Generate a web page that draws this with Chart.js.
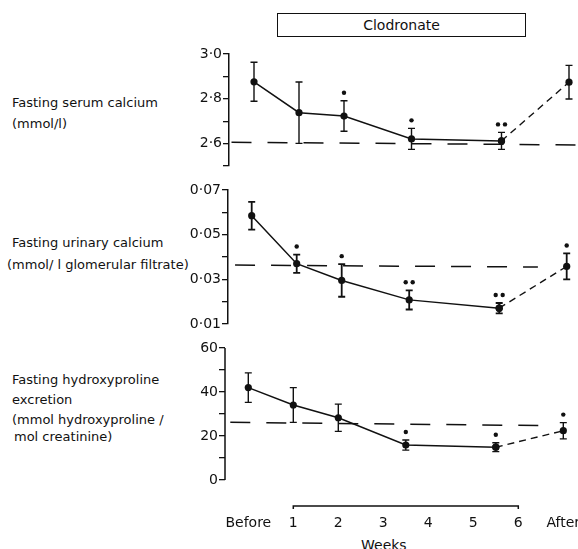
<!DOCTYPE html>
<html><head><meta charset="utf-8">
<script src="https://cdn.jsdelivr.net/npm/chart.js@4.4.0/dist/chart.umd.min.js"></script>
<style>
html,body{margin:0;padding:0;width:578px;height:549px;overflow:hidden;background:#fff;position:relative;}
.lbl{position:absolute;font-family:"DejaVu Sans",sans-serif;font-size:13px;color:#111;white-space:nowrap;line-height:18px;}
canvas{position:absolute;left:0;}
#box{position:absolute;left:277px;top:13px;width:247px;height:22px;border:1.5px solid #111;text-align:center;font-family:"DejaVu Sans",sans-serif;font-size:14px;line-height:22px;color:#111;}
</style></head><body>
<div id="box">Clodronate</div>
<div class="lbl" style="left:12px;top:94px">Fasting serum calcium</div>
<div class="lbl" style="left:12px;top:115px">(mmol/l)</div>
<div class="lbl" style="left:12px;top:234px">Fasting urinary calcium</div>
<div class="lbl" style="left:7px;top:256px">(mmol/ l glomerular filtrate)</div>
<div class="lbl" style="left:12px;top:371px">Fasting hydroxyproline</div>
<div class="lbl" style="left:12px;top:391px">excretion</div>
<div class="lbl" style="left:12px;top:411px">(mmol hydroxyproline /</div>
<div class="lbl" style="left:14px;top:428px">mol creatinine)</div>
<div class="lbl" style="left:361px;top:536px;font-size:14px">Weeks</div>
<canvas id="c1"></canvas>
<canvas id="c2"></canvas>
<canvas id="c3"></canvas>
<script>
// ---- data ----
const timeLabels = ['Before', '1', '2', '3', '4', '5', '6', 'After'];
const timeTickValues = [0, 1, 2, 3, 4, 5, 6, 7];
const sampleWeeks = [0, 1, 2, 3.5, 5.5, 7]; // Before, wk1, wk2, wk3.5, wk5.5, After

const serumCalcium = [2.876, 2.738, 2.723, 2.621, 2.612, 2.874];
const serumCalciumSE = [0.087, 0.137, 0.068, 0.047, 0.038, 0.075];
const serumCalciumSig = ['', '', '*', '*', '**', ''];
const serumCalciumNormal = [2.606, 2.594];
const serumTicks = [2.5, 2.6, 2.7, 2.8, 2.9, 3.0];
const serumTickLabels = ['', '2·6', '', '2·8', '', '3·0'];

const urinaryCalcium = [0.0585, 0.0370, 0.0295, 0.0208, 0.0171, 0.0358];
const urinaryCalciumSE = [0.0062, 0.0041, 0.0073, 0.0043, 0.0023, 0.0058];
const urinaryCalciumSig = ['', '*', '*', '**', '**', '*'];
const urinaryCalciumNormal = [0.0364, 0.0355];
const urinaryTicks = [0.01, 0.02, 0.03, 0.04, 0.05, 0.06, 0.07];
const urinaryTickLabels = ['0·01', '', '0·03', '', '0·05', '', '0·07'];

const hydroxyproline = [42.0, 34.1, 28.3, 15.9, 14.9, 22.4];
const hydroxyprolineSE = [6.7, 7.9, 6.2, 2.3, 2.0, 3.7];
const hydroxyprolineSig = ['', '', '', '*', '*', '*'];
const hydroxyprolineNormal = [26.2, 24.7];
const hypTicks = [0, 10, 20, 30, 40, 50, 60];
const hypTickLabels = ['0', '', '20', '', '40', '', '60'];

// ---- layout ----
const INK = '#111';
const PX_PER_WEEK = 45;
const panels = [
  {id: 'c1', top: 40, areaTop: 54, areaBottom: 166, axisX: 229, beforeX: 254,
   yMin: 2.5, yMax: 3.0, mean: serumCalcium, se: serumCalciumSE, sig: serumCalciumSig,
   normal: serumCalciumNormal, normalFrom: -0.5, normalTo: 7.2,
   ticks: serumTicks, tickLabels: serumTickLabels, showX: false, ownAxis: false, barW: 1.4},
  {id: 'c2', top: 178, areaTop: 190, areaBottom: 324, axisX: 228, beforeX: 251.7,
   yMin: 0.01, yMax: 0.07, mean: urinaryCalcium, se: urinaryCalciumSE, sig: urinaryCalciumSig,
   normal: urinaryCalciumNormal, normalFrom: -0.37, normalTo: 6.36,
   ticks: urinaryTicks, tickLabels: urinaryTickLabels, showX: false, ownAxis: false, barW: 1.8},
  {id: 'c3', top: 336, areaTop: 348, areaBottom: 506, axisX: 225, beforeX: 248.3,
   zeroPx: 480, yMax: 60, mean: hydroxyproline, se: hydroxyprolineSE, sig: hydroxyprolineSig,
   normal: hydroxyprolineNormal, normalFrom: -0.4, normalTo: 6.73,
   ticks: hypTicks, tickLabels: hypTickLabels, showX: true, ownAxis: true, barW: 1.4}
];

const errorBarPlugin = {
  id: 'errorBars',
  afterDatasetsDraw(chart, args, opts) {
    const p = opts.panel;
    const xs = chart.scales.x, ys = chart.scales.y;
    const ctx = chart.ctx;
    ctx.save();
    ctx.strokeStyle = INK;
    ctx.fillStyle = INK;
    ctx.lineWidth = p.barW;
    p.mean.forEach((m, i) => {
      const x = xs.getPixelForValue(sampleWeeks[i]);
      const yt = ys.getPixelForValue(m + p.se[i]);
      const yb = ys.getPixelForValue(m - p.se[i]);
      ctx.beginPath();
      ctx.moveTo(x, yt); ctx.lineTo(x, yb);
      ctx.moveTo(x - 3.5, yt); ctx.lineTo(x + 3.5, yt);
      ctx.moveTo(x - 3.5, yb); ctx.lineTo(x + 3.5, yb);
      ctx.stroke();
      const n = p.sig[i].length;
      for (let k = 0; k < n; k++) {
        const dx = n === 1 ? 0 : (k === 0 ? -3.5 : 3.5);
        ctx.beginPath();
        ctx.arc(x + dx, yt - 8, 2.2, 0, Math.PI * 2);
        ctx.fill();
      }
    });
    ctx.restore();
  }
};

const axisLinePlugin = {
  id: 'axisLines',
  afterDraw(chart, args, opts) {
    const p = opts.panel;
    if (!p.ownAxis) return;
    const xs = chart.scales.x, ys = chart.scales.y, ctx = chart.ctx;
    const a = chart.chartArea;
    ctx.save();
    ctx.strokeStyle = INK;
    ctx.lineWidth = 1.5;
    ctx.beginPath();
    ctx.moveTo(a.left, ys.getPixelForValue(p.yMax));
    ctx.lineTo(a.left, ys.getPixelForValue(0));
    const x1 = xs.getPixelForValue(1), x6 = xs.getPixelForValue(6);
    ctx.moveTo(x1, a.bottom + 3); ctx.lineTo(x1, a.bottom);
    ctx.lineTo(x6, a.bottom); ctx.lineTo(x6, a.bottom + 3);
    ctx.stroke();
    ctx.restore();
  }
};

panels.forEach(p => {
  const xMin = (p.axisX - p.beforeX) / PX_PER_WEEK;
  const xMax = xMin + (578 - p.axisX) / PX_PER_WEEK;
  let yMin = p.yMin;
  if (p.zeroPx !== undefined) {
    const ppu = (p.zeroPx - p.areaTop) / p.yMax;
    yMin = -(p.areaBottom - p.zeroPx) / ppu;
  }
  const bottomSpace = p.showX ? 30 : 10;
  const canvas = document.getElementById(p.id);
  canvas.width = 600;
  canvas.height = (p.areaTop - p.top) + (p.areaBottom - p.areaTop) + bottomSpace;
  canvas.style.top = p.top + 'px';
  canvas.style.width = '600px';
  canvas.style.height = canvas.height + 'px';

  const pt = (i) => ({x: sampleWeeks[i], y: p.mean[i]});
  new Chart(canvas, {
    type: 'scatter',
    data: {
      datasets: [
        {data: [0, 1, 2, 3, 4].map(pt), showLine: true, borderColor: INK, borderWidth: 1.5,
         pointRadius: 3.6, pointBackgroundColor: INK, pointBorderColor: INK, pointBorderWidth: 0},
        {data: [4, 5].map(pt), showLine: true, borderColor: INK, borderWidth: 1.4, borderDash: [7, 5],
         pointRadius: 3.6, pointBackgroundColor: INK, pointBorderColor: INK, pointBorderWidth: 0},
        {data: [{x: p.normalFrom, y: p.normal[0]}, {x: p.normalTo, y: p.normal[1]}], showLine: true,
         borderColor: INK, borderWidth: 1.5, borderDash: [20, 16], pointRadius: 0}
      ]
    },
    options: {
      responsive: false,
      devicePixelRatio: 1,
      animation: false,
      events: [],
      layout: {padding: {top: p.areaTop - p.top, bottom: p.showX ? 0 : 10, left: 0, right: 22}},
      plugins: {legend: {display: false}, tooltip: {enabled: false},
                errorBars: {panel: p}, axisLines: {panel: p}},
      scales: {
        x: {
          type: 'linear', min: xMin, max: xMax, display: p.showX,
          afterFit: s => { if (p.showX) s.height = 30; },
          afterBuildTicks: s => { s.ticks = timeTickValues.map(v => ({value: v})); },
          grid: {display: false, drawTicks: false},
          border: {display: false},
          ticks: {autoSkip: false, maxRotation: 0, padding: 9, color: INK,
                  font: {family: 'DejaVu Sans', size: 14},
                  callback: (v, i) => timeLabels[i]}
        },
        y: {
          type: 'linear', min: yMin, max: p.yMax,
          afterFit: s => { s.width = p.axisX; },
          afterBuildTicks: s => { s.ticks = p.ticks.map(v => ({value: v})); },
          grid: {display: true, drawOnChartArea: false, drawTicks: true, tickLength: 6, color: INK, lineWidth: 1.3},
          border: {display: !p.ownAxis, color: INK, width: 1.5},
          ticks: {autoSkip: false, padding: 1, color: INK, font: {family: 'DejaVu Sans', size: 14},
                  callback: (v, i) => p.tickLabels[i]}
        }
      }
    },
    plugins: [errorBarPlugin, axisLinePlugin]
  });
});
</script>
</body></html>
